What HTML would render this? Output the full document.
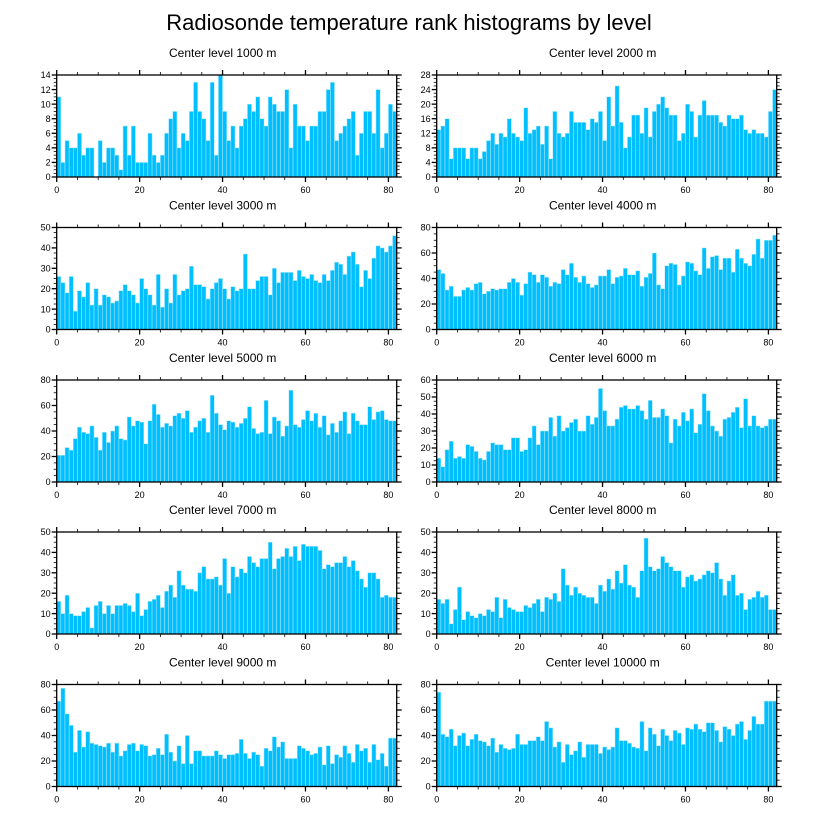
<!DOCTYPE html>
<html><head><meta charset="utf-8"><style>
body{margin:0;background:#fff;}
svg{display:block;font-family:"Liberation Sans",Arial,sans-serif;}
</style></head><body>
<svg id="chart" width="816" height="824" viewBox="0 0 816 824">
<text x="409" y="30" text-anchor="middle" font-size="22">Radiosonde temperature rank histograms by level</text>
</svg>
<script>
const levels = ["1000","2000","3000","4000","5000","6000","7000","8000","9000","10000"];
const yMaxes = [14,28,50,80,80,60,50,50,80,80];
const yTickSteps = [2,4,10,20,20,10,10,10,20,20];
const xTicks = [0,20,40,60,80];
const v1000 = [11,2,5,4,4,6,3,4,4,0,5,2,4,4,3,1,7,3,7,2,2,2,6,3,2,3,6,8,9,4,6,5,9,13,9,8,5,13,3,14,9,5,7,4,7,8,10,9,11,8,7,11,10,9,9,12,4,10,7,7,5,7,7,9,9,12,13,5,6,7,8,9,3,6,9,9,6,12,4,6,10,9];
const v2000 = [13,14,16,5,8,8,8,5,8,8,5,7,10,12,9,12,11,16,12,11,10,19,12,13,14,9,14,5,18,12,11,12,18,15,15,15,13,16,15,18,10,22,14,25,15,8,11,17,17,12,19,11,18,20,22,19,17,17,10,12,20,18,11,17,21,17,17,17,15,14,17,16,16,17,13,12,13,12,12,11,18,24];
const v3000 = [26,23,18,26,9,19,16,23,12,20,12,17,16,13,14,19,22,19,17,13,25,20,17,12,27,11,20,13,27,17,19,20,31,22,22,21,15,20,23,25,20,15,21,19,20,37,20,20,24,26,26,17,30,23,28,28,28,24,29,26,25,27,24,23,27,24,29,33,32,27,36,38,32,21,29,25,35,41,40,38,41,46];
const v4000 = [47,44,31,34,26,26,31,33,31,36,37,28,30,32,31,32,32,37,40,37,27,36,45,43,37,43,41,34,37,36,47,43,52,41,37,42,36,33,35,42,42,47,36,41,42,48,43,43,46,34,41,44,60,35,32,50,52,51,35,42,53,52,46,43,64,48,57,58,47,56,56,45,63,56,52,50,59,71,56,70,70,74];
const v5000 = [21,21,27,25,34,43,39,38,44,35,25,39,31,40,44,34,33,51,44,48,47,30,48,61,53,43,46,44,52,54,50,56,39,43,48,50,39,68,54,45,41,48,47,43,46,50,59,42,38,39,64,38,51,48,36,44,72,45,43,49,56,48,54,43,52,37,46,39,48,55,38,54,48,45,45,59,49,55,56,49,48,48];
const v6000 = [14,9,19,24,14,15,14,22,21,18,14,13,18,23,22,22,19,19,26,26,18,19,26,33,22,30,30,38,27,39,30,32,35,37,30,30,39,34,38,55,42,33,33,37,44,45,43,43,45,42,37,48,38,38,43,39,23,37,33,41,36,43,29,34,52,42,33,30,27,37,38,41,44,32,49,33,39,33,32,33,37,37];
const v7000 = [16,10,19,10,9,9,11,13,3,14,16,10,14,10,14,14,15,14,11,20,9,12,16,17,19,13,21,24,18,31,24,22,22,21,30,33,27,27,28,24,37,20,33,28,32,30,38,35,33,37,37,45,32,37,38,42,38,43,36,44,43,43,43,41,32,34,33,35,35,38,33,36,31,27,23,30,30,27,18,19,18,18];
const v8000 = [17,15,17,5,12,23,7,11,9,8,10,9,12,11,18,8,17,13,12,11,11,14,13,15,17,11,18,17,20,16,32,24,19,23,20,19,18,18,15,24,21,27,22,31,25,34,24,23,18,31,47,33,31,32,38,35,33,31,31,23,28,29,26,27,29,31,30,35,27,19,26,29,19,20,12,17,18,21,18,19,12,12];
const v9000 = [67,77,57,48,27,44,31,43,34,33,32,31,34,27,34,24,28,33,34,28,33,32,24,25,30,25,41,27,20,32,18,40,18,28,28,24,24,24,28,25,22,25,25,26,37,26,22,27,25,16,30,28,39,31,35,22,22,22,32,30,28,25,26,31,17,32,18,25,23,32,26,19,33,28,30,19,33,21,26,16,38,38];
const v10000 = [74,41,39,45,32,40,42,32,37,41,36,35,32,38,27,33,30,29,30,41,33,33,36,36,39,36,51,46,31,35,19,33,25,28,35,23,33,33,33,26,31,29,31,46,36,36,34,31,30,51,28,46,41,32,45,40,36,44,42,33,46,45,49,45,43,50,50,44,35,47,45,40,49,51,37,44,55,49,49,67,67,67];
const series = [v1000,v2000,v3000,v4000,v5000,v6000,v7000,v8000,v9000,v10000];

const NS = "http://www.w3.org/2000/svg";
const svg = document.getElementById("chart");
const colX = [56.7, 436.7], rowY = [75, 227.5, 380, 532, 684.5];
const W = 340, H = 102, XMAX = 82;
function mk(tag, attrs, parent){const e=document.createElementNS(NS,tag);for(const k in attrs)e.setAttribute(k,attrs[k]);(parent||svg).appendChild(e);return e;}

series.forEach((vals, p) => {
  const x0 = colX[p%2], y0 = rowY[Math.floor(p/2)], ymax = yMaxes[p];
  const xs = v => x0 + v / XMAX * W;
  const ys = v => y0 + H - v / ymax * H;
  const g = mk("g", {});
  
  
  const t = mk("text", {x: x0 + W/2 - 4, y: y0 - 18, "text-anchor":"middle", "font-size":"12"}, g);
  
  
  t.textContent = "Center level " + levels[p] + " m";
  vals.forEach((v, i) => {
    const r = mk("rect", {x: xs(i), y: ys(v), width: xs(i+1)-xs(i), height: ys(0)-ys(v), fill:"#00bfff", stroke:"#b0eaff", "stroke-width":"0.5"}, g);
    
    
  });
  const frame = mk("rect", {x:x0, y:y0, width:W, height:H, fill:"none", stroke:"#000", "stroke-width":"1.3"}, g);
  
  
  for (let v = 0; v <= 80; v += 5) {
    const major = v % 20 === 0, len = major ? 5 : 3, X = xs(v);
    mk("line", {x1:X, x2:X, y1:y0+H, y2:y0+H+len, stroke:"#000", "stroke-width": major?1.3:0.8}, g);
    mk("line", {x1:X, x2:X, y1:y0, y2:y0-len, stroke:"#000", "stroke-width": major?1.3:0.8}, g);
  }
  xTicks.forEach(v => {
    const l = mk("text", {x: xs(v), y: y0+H+16, "text-anchor":"middle", "font-size":"9"}, g);
    
    
    l.textContent = v;
  });
  const st = yTickSteps[p], minor = st/4;
  for (let v = 0; v <= ymax + 1e-9; v += minor) {
    const major = Math.abs(v/st - Math.round(v/st)) < 1e-6, len = major ? 5 : 3, Y = ys(v);
    mk("line", {x1:x0, x2:x0-len, y1:Y, y2:Y, stroke:"#000", "stroke-width": major?1.3:0.8}, g);
    mk("line", {x1:x0+W, x2:x0+W+len, y1:Y, y2:Y, stroke:"#000", "stroke-width": major?1.3:0.8}, g);
  }
  for (let v = 0; v <= ymax; v += st) {
    const l = mk("text", {x: x0-6, y: ys(v)+3.2, "text-anchor":"end", "font-size":"9"}, g);
    
    
    l.textContent = v;
  }
});
</script>
</body></html>
